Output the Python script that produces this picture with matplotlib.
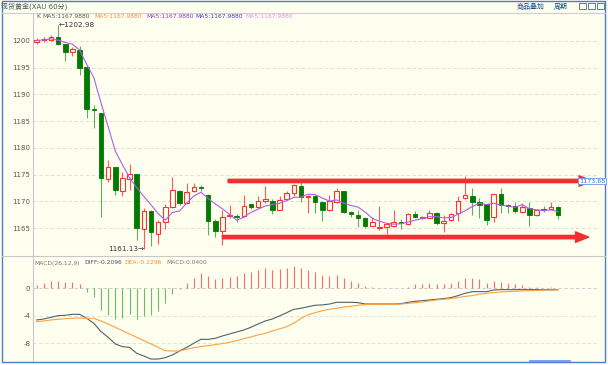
import matplotlib.pyplot as plt
import numpy as np
import pandas as pd
from matplotlib.patches import Rectangle
from matplotlib.lines import Line2D

plt.rcParams['font.family'] = ['DejaVu Sans', 'Noto Sans CJK SC']

# K线数据 (60分钟)
opens = [1199.9, 1200.1, 1200.2, 1200.7, 1199.4, 1198.0, 1198.4, 1195.1, 1187.3, 1186.5,
         1174.1, 1176.4, 1172.0, 1174.2, 1175.05, 1164.8, 1168.2, 1163.8, 1166.1, 1168.9,
         1172.0, 1169.6, 1171.9, 1172.65, 1171.2, 1166.3, 1164.5, 1167.2, 1167.2, 1167.3,
         1169.4, 1168.9, 1170.05, 1170.1, 1168.4, 1170.4, 1171.5, 1172.9, 1170.75, 1171.05,
         1169.8, 1168.4, 1169.9, 1171.9, 1168.05, 1167.4, 1166.8, 1165.45, 1164.95, 1165.15,
         1165.35, 1166.1, 1165.7, 1167.6, 1166.8, 1166.95, 1167.9, 1165.95, 1166.5, 1167.75,
         1170.7, 1171.05, 1169.9, 1169.4, 1167.1, 1171.3, 1169.3, 1169.1, 1167.95, 1168.8,
         1167.4, 1168.45, 1168.5, 1168.9]
highs = [1200.6, 1200.8, 1201.1, 1202.98, 1199.5, 1198.9, 1199.1, 1195.3, 1188.0, 1186.6,
         1177.7, 1176.5, 1175.5, 1177.0, 1175.1, 1168.75, 1168.3, 1166.5, 1169.5, 1174.5,
         1172.1, 1173.4, 1173.5, 1173.0, 1171.3, 1166.6, 1168.4, 1169.3, 1167.6, 1171.2,
         1169.6, 1171.0, 1172.9, 1170.4, 1171.0, 1172.0, 1173.2, 1173.85, 1171.1, 1171.1,
         1170.0, 1171.2, 1172.4, 1172.0, 1168.2, 1168.3, 1167.0, 1167.0, 1169.1, 1166.0,
         1168.4, 1166.7, 1167.8, 1168.2, 1167.3, 1168.3, 1168.0, 1167.4, 1167.8, 1170.9,
         1174.75, 1172.4, 1170.6, 1169.5, 1171.4, 1172.4, 1169.4, 1169.8, 1169.6, 1169.8,
         1168.5, 1169.1, 1169.8, 1169.2]
lows = [1199.5, 1199.9, 1200.0, 1199.25, 1196.3, 1197.2, 1193.6, 1185.6, 1183.8, 1167.1,
        1173.7, 1171.2, 1171.0, 1172.2, 1162.8, 1161.13, 1161.7, 1162.0, 1164.75, 1168.8,
        1169.3, 1169.5, 1171.8, 1172.0, 1163.6, 1163.4, 1161.8, 1166.8, 1166.2, 1167.1,
        1168.5, 1168.8, 1169.6, 1167.6, 1168.3, 1170.3, 1170.9, 1169.8, 1167.9, 1167.9,
        1166.3, 1168.2, 1169.7, 1167.8, 1167.1, 1165.25, 1165.05, 1165.3, 1164.6, 1163.8,
        1165.2, 1164.8, 1165.5, 1167.0, 1166.6, 1166.8, 1165.6, 1164.3, 1166.3, 1166.4,
        1170.5, 1167.4, 1166.95, 1165.55, 1166.1, 1167.75, 1167.8, 1167.9, 1167.8, 1165.4,
        1167.2, 1168.0, 1168.4, 1166.6]
closes = [1200.1, 1200.3, 1200.8, 1199.4, 1198.0, 1198.5, 1195.0, 1187.2, 1187.1, 1174.3,
          1176.4, 1172.1, 1174.3, 1175.05, 1164.95, 1168.2, 1164.2, 1166.1, 1168.9, 1172.1,
          1169.6, 1171.7, 1172.6, 1172.5, 1166.3, 1164.5, 1167.1, 1167.4, 1167.0, 1169.1,
          1169.0, 1170.1, 1170.4, 1168.4, 1170.25, 1171.5, 1173.05, 1170.75, 1171.05, 1169.8,
          1168.4, 1170.1, 1171.9, 1168.05, 1167.6, 1166.95, 1165.4, 1166.1, 1165.25, 1165.7,
          1166.1, 1165.9, 1167.6, 1167.1, 1167.1, 1167.9, 1165.9, 1166.4, 1167.6, 1170.05,
          1171.2, 1169.9, 1169.3, 1166.5, 1171.3, 1169.3, 1169.1, 1168.2, 1169.0, 1167.4,
          1168.3, 1168.35, 1169.0, 1167.4]

# MACD(26,12,9)
diff = [-4.61, -4.47, -4.22, -3.98, -3.93, -3.79, -3.79, -4.37, -5.1, -6.3,
        -7.13, -8.1, -8.5, -8.6, -9.46, -9.86, -10.3, -10.3, -10.1, -9.7,
        -9.13, -8.6, -8.0, -7.43, -7.43, -7.28, -6.94, -6.65, -6.36, -6.07,
        -5.68, -5.2, -4.76, -4.47, -4.03, -3.55, -3.06, -2.91, -2.68, -2.47,
        -2.42, -2.29, -2.04, -2.04, -2.04, -2.09, -2.29, -2.29, -2.29, -2.29,
        -2.29, -2.24, -2.04, -1.89, -1.8, -1.7, -1.6, -1.5, -1.36, -1.07,
        -0.73, -0.49, -0.49, -0.49, -0.25, -0.2, -0.2, -0.2, -0.2, -0.2,
        -0.2, -0.21, -0.21, -0.21]
dea = [-4.86, -4.76, -4.61, -4.52, -4.42, -4.37, -4.32, -4.37, -4.37, -4.76,
       -5.2, -5.68, -6.17, -6.65, -7.13, -7.62, -8.1, -8.6, -9.08, -9.13,
       -9.13, -8.88, -8.64, -8.49, -8.35, -8.2, -8.05, -7.86, -7.62, -7.33,
       -7.08, -6.79, -6.55, -6.21, -5.92, -5.58, -5.1, -4.37, -3.88, -3.55,
       -3.26, -3.06, -2.91, -2.72, -2.62, -2.47, -2.38, -2.33, -2.33, -2.33,
       -2.33, -2.29, -2.2, -2.09, -2.0, -1.84, -1.7, -1.6, -1.5, -1.36,
       -1.17, -1.07, -0.87, -0.73, -0.63, -0.53, -0.49, -0.44, -0.39, -0.34,
       -0.31, -0.27, -0.25, -0.23]
macd_hist = [0.48, 0.77, 1.06, 1.06, 0.92, 0.87, 0.58, -0.58, -1.2, -3.15,
             -3.9, -4.5, -4.37, -3.8, -4.47, -4.03, -3.88, -3.3, -2.2, -0.83,
             -0.1, 0.82, 1.45, 2.18, 1.8, 1.35, 1.45, 1.7, 1.8, 2.18,
             2.37, 2.66, 2.9, 2.66, 2.8, 2.9, 3.25, 3.0, 2.66, 2.42,
             1.94, 1.8, 1.94, 1.45, 1.06, 0.73, 0.34, 0.15, 0.05, 0.02,
             0.05, 0.1, 0.25, 0.58, 0.63, 0.77, 0.68, 0.68, 0.77, 1.1,
             1.45, 1.45, 1.3, 0.82, 1.06, 0.87, 0.77, 0.63, 0.48, 0.2,
             0.15, 0.1, 0.15, 0.05]

price_ticks = [1200, 1195, 1190, 1185, 1180, 1175, 1170, 1165]
macd_ticks = [0, -4, -8]

W, H = 608, 365
BG = '#fffff0'

fig = plt.figure(figsize=(6.08, 3.65), dpi=100, facecolor=BG)


def box(x0, y0, x1, y1):
    return [x0 / W, 1 - y1 / H, (x1 - x0) / W, (y1 - y0) / H]


def fx(x):
    return x / W


def fy(y):
    return 1 - y / H


ax = fig.add_axes(box(33, 13, 598, 256), facecolor=BG)
ax2 = fig.add_axes(box(33, 256, 598, 362), facecolor=BG, sharex=ax)

o = np.array(opens)
h = np.array(highs)
l = np.array(lows)
c = np.array(closes)
idx = np.arange(len(c))
up = c >= o
lo = np.minimum(o, c)
bh = np.maximum(np.abs(c - o), 0.13)

# 影线
ax.vlines(idx[up], l[up], h[up], color='#ff5a5a', lw=0.8, zorder=2)
ax.vlines(idx[~up], l[~up], h[~up], color='#5fae5f', lw=0.8, zorder=2)
# 实体
ax.bar(idx[up], bh[up], bottom=lo[up], width=0.64, facecolor=BG,
       edgecolor='#ff3030', lw=0.8, zorder=3)
ax.bar(idx[~up], bh[~up], bottom=lo[~up], width=0.64, facecolor='#007a00',
       edgecolor='#007a00', lw=0.6, zorder=3)

ma5 = pd.Series(closes).rolling(5, min_periods=1).mean()
ax.plot(idx, ma5, color='#b35ce8', lw=0.8, zorder=4)

# 支撑/压力箭头
arrow = dict(arrowstyle='simple,head_length=0.95,head_width=0.75,tail_width=0.24',
             color='#f03030', mutation_scale=10, shrinkA=0, shrinkB=0)
ax.annotate('', xy=(77.8, 1173.8), xytext=(26.8, 1173.8), arrowprops=arrow, zorder=5)
ax.annotate('', xy=(77.3, 1163.3), xytext=(26.0, 1163.3), arrowprops=arrow, zorder=5)

ax.text(3.1, 1202.98, '←1202.98', fontsize=5.2, color='#333344', va='center', ha='left')
ax.text(15.0, 1161.13, '1161.13→', fontsize=5.2, color='#333344', va='center', ha='right')

ax.set_xlim(-0.52, 78.6)
ax.set_ylim(1159.76, 1205.24)
ax.set_yticks(price_ticks)
ax.set_yticklabels([str(t) for t in price_ticks])
ax.grid(axis='y', ls=(0, (4, 3)), color='#d8d8d0', lw=0.6)
ax.tick_params(axis='y', length=0, pad=2, labelsize=5, labelcolor='#555555')
ax.tick_params(axis='x', length=0, labelbottom=False)
for s in ['top', 'right', 'bottom']:
    ax.spines[s].set_visible(False)
ax.spines['left'].set_color('#c8c8c8')

# MACD 面板
hist = np.array(macd_hist)
ax2.vlines(idx[hist >= 0], 0, hist[hist >= 0], color='#ff6a6a', lw=0.8)
ax2.vlines(idx[hist < 0], 0, hist[hist < 0], color='#6cbb5c', lw=0.8)
ax2.plot(idx, diff, color='#51606e', lw=0.8)
ax2.plot(idx, dea, color='#ffa040', lw=0.8)
ax2.set_ylim(-10.73, 4.70)
ax2.set_yticks(macd_ticks)
ax2.set_yticklabels([str(t) for t in macd_ticks])
ax2.axhline(0, ls=(0, (4, 3)), color='#c4c4c4', lw=0.6, zorder=0)
for t in macd_ticks[1:]:
    ax2.axhline(t, ls=(0, (4, 3)), color='#dcdcd4', lw=0.6, zorder=0)
ax2.tick_params(axis='y', length=0, pad=2, labelsize=5, labelcolor='#555555')
ax2.tick_params(axis='x', length=0, labelbottom=False)
for s in ['top', 'right', 'bottom']:
    ax2.spines[s].set_visible(False)
ax2.spines['left'].set_color('#c8c8c8')

# 图例文字
fs = 4.3
fig.text(fx(36), fy(17), 'K', fontsize=fs, color='#555555', va='center')
ma_cols = ['#555555', '#ff8c40', '#9933cc', '#3838c8', '#ee88ee']
ma_x = [42.7, 94.3, 146.7, 195, 245]
for xx, col in zip(ma_x, ma_cols):
    fig.text(fx(xx), fy(17), 'MA5:1167.9880', fontsize=fs, color=col, va='center')

fig.text(fx(34), fy(263), 'MACD(26,12,9)', fontsize=fs, color='#777777', va='center')
fig.text(fx(84), fy(263), 'DIFF:-0.2096', fontsize=fs, color='#445566', va='center')
fig.text(fx(124), fy(263), 'DEA:-0.2296', fontsize=fs, color='#ff8c30', va='center')
fig.text(fx(166), fy(263), 'MACD:0.0400', fontsize=fs, color='#777777', va='center')

# 标题栏
fig.text(fx(1), fy(6.5), '现货黄金(XAU 60分)', fontsize=5, color='#555555', va='center')
fig.text(fx(517), fy(6), '商品叠加', fontsize=5, color='#1a4a8a', va='center')
fig.text(fx(554), fy(6), '周期', fontsize=5, color='#1a4a8a', va='center')
for xx in [579, 588, 597]:
    fig.add_artist(Rectangle((fx(xx), fy(9)), 7 / W, 6 / H, fill=False,
                             edgecolor='#3a6aa8', lw=0.6, transform=fig.transFigure))

fig.text(fx(579), fy(181), '1173.65', fontsize=4.6, color='#3a6cc0', va='center', ha='left',
         bbox=dict(boxstyle='square,pad=0.15', fc='#ffffff', ec='#6a9ae0', lw=0.6))

# 分隔线与边框
fig.add_artist(Line2D([fx(2), fx(605)], [fy(12.5), fy(12.5)], color='#cfcfcf', lw=0.8))
fig.add_artist(Line2D([fx(2), fx(605)], [fy(256), fy(256)], color='#c8c8c8', lw=0.8))
fig.add_artist(Line2D([fx(530), fx(570)], [fy(361), fy(361)], color='#7aa6e6', lw=1.5))
fig.add_artist(Rectangle((fx(2), fy(362)), 603 / W, 361.5 / H, fill=False,
                         edgecolor='#4a7cc8', lw=1.0, transform=fig.transFigure))

fig.savefig('out.png', dpi=100, facecolor=BG)
